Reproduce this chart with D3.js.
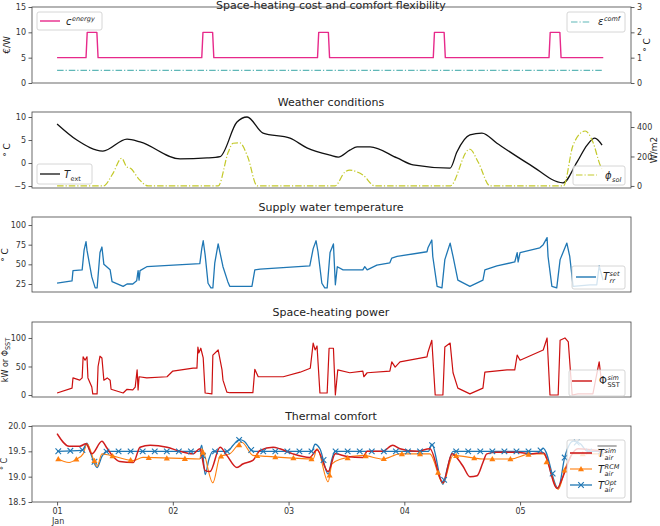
<!DOCTYPE html>
<html><head><meta charset="utf-8">
<script src="https://cdn.jsdelivr.net/npm/d3@7"></script>
<style>body{margin:0;background:#fff}svg{font-family:"DejaVu Sans",sans-serif}</style>
</head><body><svg id="c" width="660" height="526"></svg>
<script>
// ---------------- DATA (hours since 01 Jan 00:00) ----------------
const costHours = [0,6,6.25,8.25,8.5,30,30.25,32.25,32.5,54,54.25,56.25,56.5,78,78.25,80.25,80.5,102,102.25,104.25,104.5,113.25];
const costValues = [5,5,10,10,5,5,10,10,5,5,10,10,5,5,10,10,5,5,10,10,5,5];
const comfHours = [0,113.25];
const comfValues = [0.5,0.5];

const tExtHours = [0,4.1,9.5,14.5,17.2,25.5,31.1,33.8,37.3,39.4,42.7,48.3,51.8,56.6,58.3,60.7,62.2,64.9,70.5,73.8,81.5,82.9,85.6,88.1,91.2,98.1,104.9,107.8,109.9,111.5,113.0];
const tExtValues = [8.5,5.0,2.6,5.2,4.6,0.9,1.1,1.4,8.9,10.0,6.5,5.4,3.3,1.7,1.3,2.8,3.5,3.5,1.1,-0.4,-1.1,2.4,6.1,6.5,4.3,-0.4,-4.3,0.2,3.9,5.4,3.9];

const solHours = [0,9.6,11.5,13.4,14.4,15.3,17,18.9,33.4,35.5,36.5,37.9,39.5,41.5,57.6,59.7,60.7,62.2,63.4,65.9,81.5,85.2,85.6,87.3,89.8,105,107,109.5,111.1,112.6,113.2];
const solValues = [0,0,80,188,131,118,45,0,0,230,290,292,200,0,0,95,108,95,75,0,0,244,249,163,0,0,278,373,298,142,100];

const supplyHours = [0,3.1,3.3,5.2,5.6,6.0,6.2,7.2,7.9,8.3,8.9,9.3,9.7,11.0,11.4,13.7,14.5,15.7,16.5,16.8,17.0,17.2,18.6,29.6,30.0,30.3,30.7,31.3,31.9,32.3,32.7,33.4,34.4,35.4,35.8,40.4,41.0,42.1,52.4,53.1,53.7,54.1,54.9,55.5,56.0,56.6,57.3,57.7,58.1,59.3,63.4,63.8,64.3,66.3,69.0,69.4,70.5,76.7,76.9,77.7,77.9,78.8,79.8,80.4,81.5,82.1,83.1,85.6,88.3,88.7,91.2,94.9,95.4,95.6,96.0,100.1,100.8,101.6,101.8,102.6,103.6,104.3,105.7,106.3,107.0,110.5,111.9,112.4,113.2];
const supplyValues = [26,29,42,43,68,79,68,34,20,20,65,72,50,43,28,22,25,25,29,42,30,42,47,51,70,80,62,26,20,20,52,76,47,28,22,22,43,44,48,70,80,66,26,20,20,65,76,24,47,43,43,47,43,49,52,58,60,66,71,81,60,22,20,56,77,60,30,22,30,43,48,53,65,53,65,71,75,84,60,22,20,56,77,60,22,24,24,48,30];

const powerHours = [0,3.1,3.3,4.7,5.2,5.4,5.8,6.2,6.4,7.2,7.4,8.3,8.5,8.9,9.3,9.7,10.4,11.0,11.2,13.7,14.5,15.7,16.2,16.6,16.8,17.0,18.6,22.8,24.0,28.2,29.0,29.2,29.4,29.8,30.3,30.7,32.1,32.3,33.4,34.2,34.4,35.2,35.8,40.6,41.0,41.7,46.9,50.4,52.5,53.1,53.5,53.9,54.5,56.0,56.4,57.3,57.7,58.2,60.7,63.4,63.6,64.3,69.0,69.4,70.1,71.1,76.7,76.9,77.7,78.4,80.0,80.4,81.5,82.1,83.1,85.6,88.3,88.7,93.3,94.9,95.4,96.0,100.8,101.6,102.2,103.9,104.3,105.3,106.0,106.8,108.0,111.1,112.4,112.8,113.2];
const powerValues = [3.5,12,30,26,30,67,61,67,30,14,2,2,50,68,65,26,30,26,10,3.5,10,9,14,44,9,32,30,32,42,47,47,84,74,82,65,3.5,2,70,79,44,26,5,4,4,45,32,32,40,47,91,79,86,3.5,3.5,82,82,0,44,39,42,32,39,42,58,49,58,67,75,96,0,0,84,91,39,12,2,12,40,44,44,70,61,79,100,0,0,96,100,93,0,2,2,58,30,25];

const simHours = [0,2.5,4.7,6.0,7.2,9.3,10.3,11.6,13,15.8,17.2,19.3,22.8,25.5,28.2,29.6,30.7,31.7,33.8,35.2,37.3,38.5,40.6,42.1,44.8,46.2,48.9,52.4,53.9,56.2,57.7,60.1,63.4,64.3,67.5,69.6,71.1,74.6,77.3,80.0,81.9,83.1,84.2,85.6,87.1,88.3,89.1,91.2,95.4,98.1,100.8,103.7,104.9,106.5,108,113.2];
const simValues = [19.85,19.6,19.6,19.65,19.45,19.7,19.57,19.4,19.3,19.28,19.58,19.62,19.58,19.5,19.45,19.55,19.12,19.1,19.58,19.42,19.18,19.25,19.32,19.52,19.58,19.55,19.45,19.38,19.53,19.1,19.45,19.4,19.38,19.5,19.5,19.62,19.55,19.5,19.55,18.88,19.45,19.35,19.2,19.0,19.02,19.28,19.45,19.48,19.48,19.45,19.47,18.77,19.0,19.4,19.55,19.5];

const rcmHours = [0,2.5,4.1,5.4,6.2,8.3,9.3,11.0,15.8,17.8,29.6,30.0,32.3,33.8,35.8,38.3,40.6,43.5,53.1,53.9,56.2,57.0,58.9,63.4,67.5,71.1,77.3,80.0,82.1,88.3,94.0,98.1,100.8,103.9,105.5,107,113.2];
const rcmValues = [19.36,19.28,19.35,19.45,19.65,19.2,19.45,19.42,19.32,19.38,19.35,19.55,18.88,19.4,19.45,19.68,19.42,19.4,19.35,19.55,18.9,19.25,19.35,19.42,19.35,19.45,19.45,18.87,19.42,19.35,19.35,19.45,19.45,18.75,19.2,19.45,19.45];

const optHours = [0,5.2,6.2,7.0,8.3,9.3,10.3,29.5,30.0,30.7,31.5,32.3,35.3,36.5,37.8,38.8,40.3,41,52.8,53.5,54.5,56.2,57.0,57.6,77.0,77.7,80.0,81.0,82.1,100.0,100.8,103.9,105.3,107,108.5,110,113.2];
const optValues = [19.5,19.52,19.66,19.45,19.18,19.4,19.5,19.5,19.62,19.04,19.35,19.5,19.5,19.62,19.73,19.7,19.52,19.5,19.5,19.64,19.55,19.05,19.35,19.5,19.5,19.64,18.85,19.2,19.5,19.5,19.56,18.77,19.4,19.7,19.65,19.5,19.5];

const dayTicks = [0,24,48,72,96];
const dayLabels = ["01","02","03","04","05"];
const titles = ["Space-heating cost and comfort flexibility","Weather conditions","Supply water temperature","Space-heating power","Thermal comfort"];

// ---------------- LAYOUT ----------------
const L=32, R=631;
const panels=[[7,83],[112,188],[217,292],[322,397],[426,502]];
const svg=d3.select('#c');
const x=d3.scaleLinear().domain([-5.2,119]).range([L,R]);
const zip=(hs,vs)=>hs.map((h,i)=>[h,vs[i]]);
const interpAt=(hs,vs,h)=>{for(let i=1;i<hs.length;i++){if(h<=hs[i]){const t=(h-hs[i-1])/(hs[i]-hs[i-1]);return vs[i-1]+t*(vs[i]-vs[i-1]);}}return vs[vs.length-1];};

const ys=[
  d3.scaleLinear().domain([0,15]).range([83,7]),
  d3.scaleLinear().domain([-5.43,11.09]).range([188,112]),
  d3.scaleLinear().domain([14.83,110.2]).range([292,217]),
  d3.scaleLinear().domain([-3.5,128]).range([397,322]),
  d3.scaleLinear().domain([18.5,20]).range([502,426])
];
const y1R=d3.scaleLinear().domain([0,3]).range([83,7]);
const y2R=d3.scaleLinear().domain([-14,502]).range([188,112]);

const defs=svg.append('defs');
panels.forEach((p,i)=>{defs.append('clipPath').attr('id','cp'+i).append('rect').attr('x',L).attr('y',p[0]).attr('width',R-L).attr('height',p[1]-p[0]);});

function styleAxis(g){
  g.select('.domain').remove();
  g.selectAll('.tick line').attr('stroke','#333').attr('stroke-width',0.8);
  g.selectAll('.tick text').attr('fill','#333').style('font-size','8px').style('font-family','DejaVu Sans');
}
const leftTicks=[[0,5,10,15],[-5,0,5,10],[25,50,75,100],[0,50,100],[18.5,19.0,19.5,20.0]];
const titleY=[8.5,106,211,316,420];
panels.forEach((p,i)=>{
  const g=svg.append('g').attr('transform',`translate(${L},0)`)
    .call(d3.axisLeft(ys[i]).tickValues(leftTicks[i]).tickSize(3.5).tickPadding(2.5).tickFormat(i===4?d3.format('.1f'):d3.format('d')));
  styleAxis(g);
  svg.append('text').attr('x',331).attr('y',titleY[i]).attr('text-anchor','middle').style('font-size','11px').attr('fill','#222').text(titles[i]);
});
styleAxis(svg.append('g').attr('transform',`translate(${R},0)`).call(d3.axisRight(y1R).tickValues([0,1,2,3]).tickFormat(d3.format('d')).tickSize(3.5).tickPadding(2.5)));
styleAxis(svg.append('g').attr('transform',`translate(${R},0)`).call(d3.axisRight(y2R).tickValues([0,200,400]).tickFormat(d3.format('d')).tickSize(3.5).tickPadding(2.5)));
const xa=svg.append('g').attr('transform',`translate(0,502)`).call(d3.axisBottom(x).tickValues(dayTicks).tickSize(3.5).tickPadding(3).tickFormat((d,i)=>dayLabels[i]));
styleAxis(xa);
svg.append('text').attr('x',x(0)+1).attr('y',524).attr('text-anchor','middle').style('font-size','8px').attr('fill','#333').text('Jan');

function ylab(xp,yp,txt,sub,fs){
  const t=svg.append('text').attr('transform',`translate(${xp},${yp}) rotate(-90)`).attr('text-anchor','middle').style('font-size',(fs||9)+'px').attr('fill','#222');
  t.append('tspan').text(txt);
  if(sub) t.append('tspan').attr('dy',2).style('font-size','6.5px').text(sub);
}
ylab(10,45,'€/W'); ylab(650,45,'° C');
ylab(10,150,'° C'); ylab(657,150,'W/m2');
ylab(8,255,'° C');
ylab(8,360,'kW or Φ','SST',8);
ylab(7,464,'° C',null,8);

// ---------------- LINES ----------------
function draw(i,hs,vs,y,color,w,dash,curve){
  const line=d3.line().x(d=>x(d[0])).y(d=>y(d[1])).curve(curve||d3.curveLinear);
  return svg.append('path').attr('clip-path',`url(#cp${i})`).attr('d',line(zip(hs,vs)))
    .attr('fill','none').attr('stroke',color).attr('stroke-width',w).attr('stroke-dasharray',dash||null).attr('stroke-linejoin','round');
}
const C={cost:'#e7298a',comf:'#5fb7b7',text:'#111',sol:'#c3c92a',sup:'#1f77b4',pow:'#cc1010',sim:'#d01c1c',rcm:'#ff7f0e',opt:'#1f77b4'};
const DD='6.5,2,1.2,2';
draw(0,costHours,costValues,ys[0],C.cost,1.4);
draw(0,comfHours,comfValues,y1R,C.comf,1.1,DD);
draw(1,tExtHours,tExtValues,ys[1],C.text,1.3,null,d3.curveMonotoneX);
draw(1,solHours,solValues,y2R,C.sol,1.2,DD,d3.curveMonotoneX);
draw(2,supplyHours,supplyValues,ys[2],C.sup,1.3);
draw(3,powerHours,powerValues,ys[3],C.pow,1.2);
draw(4,optHours,optValues,ys[4],C.opt,1.3,null,d3.curveMonotoneX);
draw(4,rcmHours,rcmValues,ys[4],C.rcm,1.1,null,d3.curveMonotoneX);
draw(4,simHours,simValues,ys[4],C.sim,1.5,null,d3.curveMonotoneX);

const tri=d3.symbol(d3.symbolTriangle,16);
function xMark(g,cx,cy,color){g.append('path').attr('d',`M${cx-2.8},${cy-2.8}L${cx+2.8},${cy+2.8}M${cx-2.8},${cy+2.8}L${cx+2.8},${cy-2.8}`).attr('stroke',color).attr('stroke-width',1.1);}
function triMark(g,cx,cy,color){g.append('path').attr('d',tri()).attr('transform',`translate(${cx},${cy+0.6})`).attr('fill',color);}
const mg=svg.append('g').attr('clip-path','url(#cp4)');
for(let h=0.25;h<=113.2;h+=2.5) xMark(mg,x(h),ys[4](interpAt(optHours,optValues,h)),C.opt);
for(let h=0.25;h<=113.2;h+=3.75) triMark(mg,x(h),ys[4](interpAt(rcmHours,rcmValues,h)),C.rcm);

panels.forEach(p=>{
  svg.append('rect').attr('x',L).attr('y',p[0]).attr('width',R-L).attr('height',p[1]-p[0]).attr('fill','none').attr('stroke','#444').attr('stroke-width',0.8);
});

// ---------------- LEGENDS ----------------
function box(x0,y0,w,h){svg.append('rect').attr('x',x0).attr('y',y0).attr('width',w).attr('height',h).attr('rx',2).attr('fill','#fff').attr('fill-opacity',0.8).attr('stroke','#ccc').attr('stroke-width',0.8);}
function lsample(x0,x1,yy,color,w,dash){svg.append('line').attr('x1',x0).attr('x2',x1).attr('y1',yy).attr('y2',yy).attr('stroke',color).attr('stroke-width',w).attr('stroke-dasharray',dash||null);}
function math(x0,y0,main,sup,sub,opt){
  opt=opt||{};
  const t=svg.append('text').attr('x',x0).attr('y',y0).style('font-size','10px').style('font-style',opt.upright?'normal':'italic').attr('fill','#222').text(main);
  const w=t.node().getComputedTextLength();
  if(sup){const s=svg.append('text').attr('x',x0+w+0.5).attr('y',y0-(sub?4.5:4)).style('font-size','6.5px').style('font-style','italic').attr('fill','#222').text(sup);
    if(opt.over){const sw=s.node().getComputedTextLength();svg.append('line').attr('x1',x0-0.5).attr('x2',x0+w+sw+1).attr('y1',y0-11).attr('y2',y0-11).attr('stroke','#222').attr('stroke-width',0.7);}}
  if(sub){svg.append('text').attr('x',x0+w+0.5).attr('y',y0+2.5).style('font-size','6.5px').style('font-style',opt.subUpright?'normal':'italic').attr('fill','#222').text(sub);}
}
box(37,12,65,18); lsample(40,60,21,C.cost,1.4); math(66,25,'c','energy');
box(567,12,58,20); lsample(571,590,22,C.comf,1.1,DD); math(598,25,'ε','comf');
box(37,164,55,20); lsample(40,60,174,C.text,1.3); math(64,178,'T',null,'ext',{subUpright:true});
box(573,166,52,19); lsample(576,597,175,C.sol,1.2,DD); math(605,179,'ϕ',null,'sol');
box(572,266,53,23); lsample(576,596,277,C.sup,1.4); math(603,280,'T','set','rr');
box(569,370,56,26); lsample(572,592,381,C.pow,1.4); math(599,384,'Φ','sim','SST',{upright:true,subUpright:true});
box(567,440,58,58);
lsample(570,592,453,C.sim,1.6); math(598,457,'T','sim','air',{over:true});
lsample(570,592,469,C.rcm,1.1); triMark(svg,581,469,C.rcm); math(598,473,'T','RCM','air');
lsample(570,592,485,C.opt,1.3); xMark(svg,581,485,C.opt); math(598,489,'T','Opt','air');
</script></body></html>
